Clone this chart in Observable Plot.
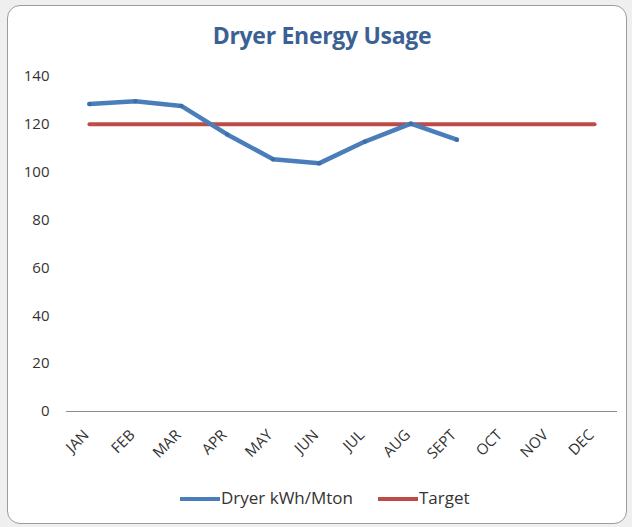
<!DOCTYPE html>
<html>
<head>
<meta charset="utf-8">
<script src="https://cdn.jsdelivr.net/npm/d3@7"></script>
<script src="https://cdn.jsdelivr.net/npm/@observablehq/plot@0.6"></script>
<style>
  html, body { margin: 0; padding: 0; background: #efefef; width: 632px; height: 527px; overflow: hidden; font-family: "Open Sans", sans-serif; }
  #frame { position: absolute; left: 7px; top: 5px; width: 620px; height: 519px; box-sizing: border-box; border: 1px solid #9c9c9c; border-radius: 13px; background: #fff; }
  #title { position: absolute; left: 5px; width: 618px; top: 18px; text-align: center; font-size: 23px; line-height: 23px; font-weight: bold; color: #3b6192; letter-spacing: -0.3px; }
  #chart { position: absolute; left: 0; top: 54px; }
  #legend { position: absolute; top: 480px; left: 0; width: 618px; height: 24px; font-size: 17px; line-height: 24px; color: #333; }
  .sw { position: absolute; top: 11px; height: 4px; width: 40px; }
  .lt { position: absolute; top: 0; }
</style>
</head>
<body>
<div id="frame">
  <div id="title">Dryer Energy Usage</div>
  <div id="chart"></div>
  <div id="legend">
    <span class="sw" style="left:172px;background:#4a7ebb"></span><span class="lt" style="left:213px">Dryer kWh/Mton</span>
    <span class="sw" style="left:370px;background:#be4b48"></span><span class="lt" style="left:411px">Target</span>
  </div>
</div>
<script>
const months = ["JAN","FEB","MAR","APR","MAY","JUN","JUL","AUG","SEPT","OCT","NOV","DEC"];
const dryerMonths = ["JAN","FEB","MAR","APR","MAY","JUN","JUL","AUG","SEPT"];
const dryerValues = [128.5, 129.7, 127.7, 115.8, 105.4, 103.7, 112.8, 120.3, 113.6];
const targetValues = [120,120,120,120,120,120,120,120,120,120,120,120];
const yTicks = [0,20,40,60,80,100,120,140];

const dryer = dryerMonths.map((m,i) => ({month: m, value: dryerValues[i]}));
const target = months.map((m,i) => ({month: m, value: targetValues[i]}));

const chart = Plot.plot({
  width: 618,
  height: 410,
  marginLeft: 58,
  marginRight: 9,
  marginTop: 16,
  marginBottom: 59,
  style: {fontFamily: "Open Sans, sans-serif", fontSize: "15px", color: "#333", background: "transparent"},
  x: {type: "point", domain: months, padding: 0.5, round: false, label: null},
  y: {domain: [0, 140], ticks: yTicks, label: null},
  marks: [
    Plot.axisY({ticks: yTicks, tickSize: 0, tickPadding: 17, fontSize: 15, label: null}),
    Plot.axisX({tickSize: 0, tickRotate: -45, tickPadding: 0, dx: -3, dy: 21, fontSize: 15, label: null}),
    Plot.ruleY([0], {stroke: "#8c8c8c", strokeWidth: 1.2}),
    Plot.line(target, {x: "month", y: "value", stroke: "#be4b48", strokeWidth: 4}),
    Plot.line(dryer, {x: "month", y: "value", stroke: "#4a7ebb", strokeWidth: 4.5, strokeLinejoin: "round", strokeLinecap: "round"}),
    Plot.dot(dryer, {x: "month", y: "value", r: 2.2, fill: "#3d6ea8"})
  ]
});
document.getElementById("chart").appendChild(chart);
</script>
</body>
</html>
